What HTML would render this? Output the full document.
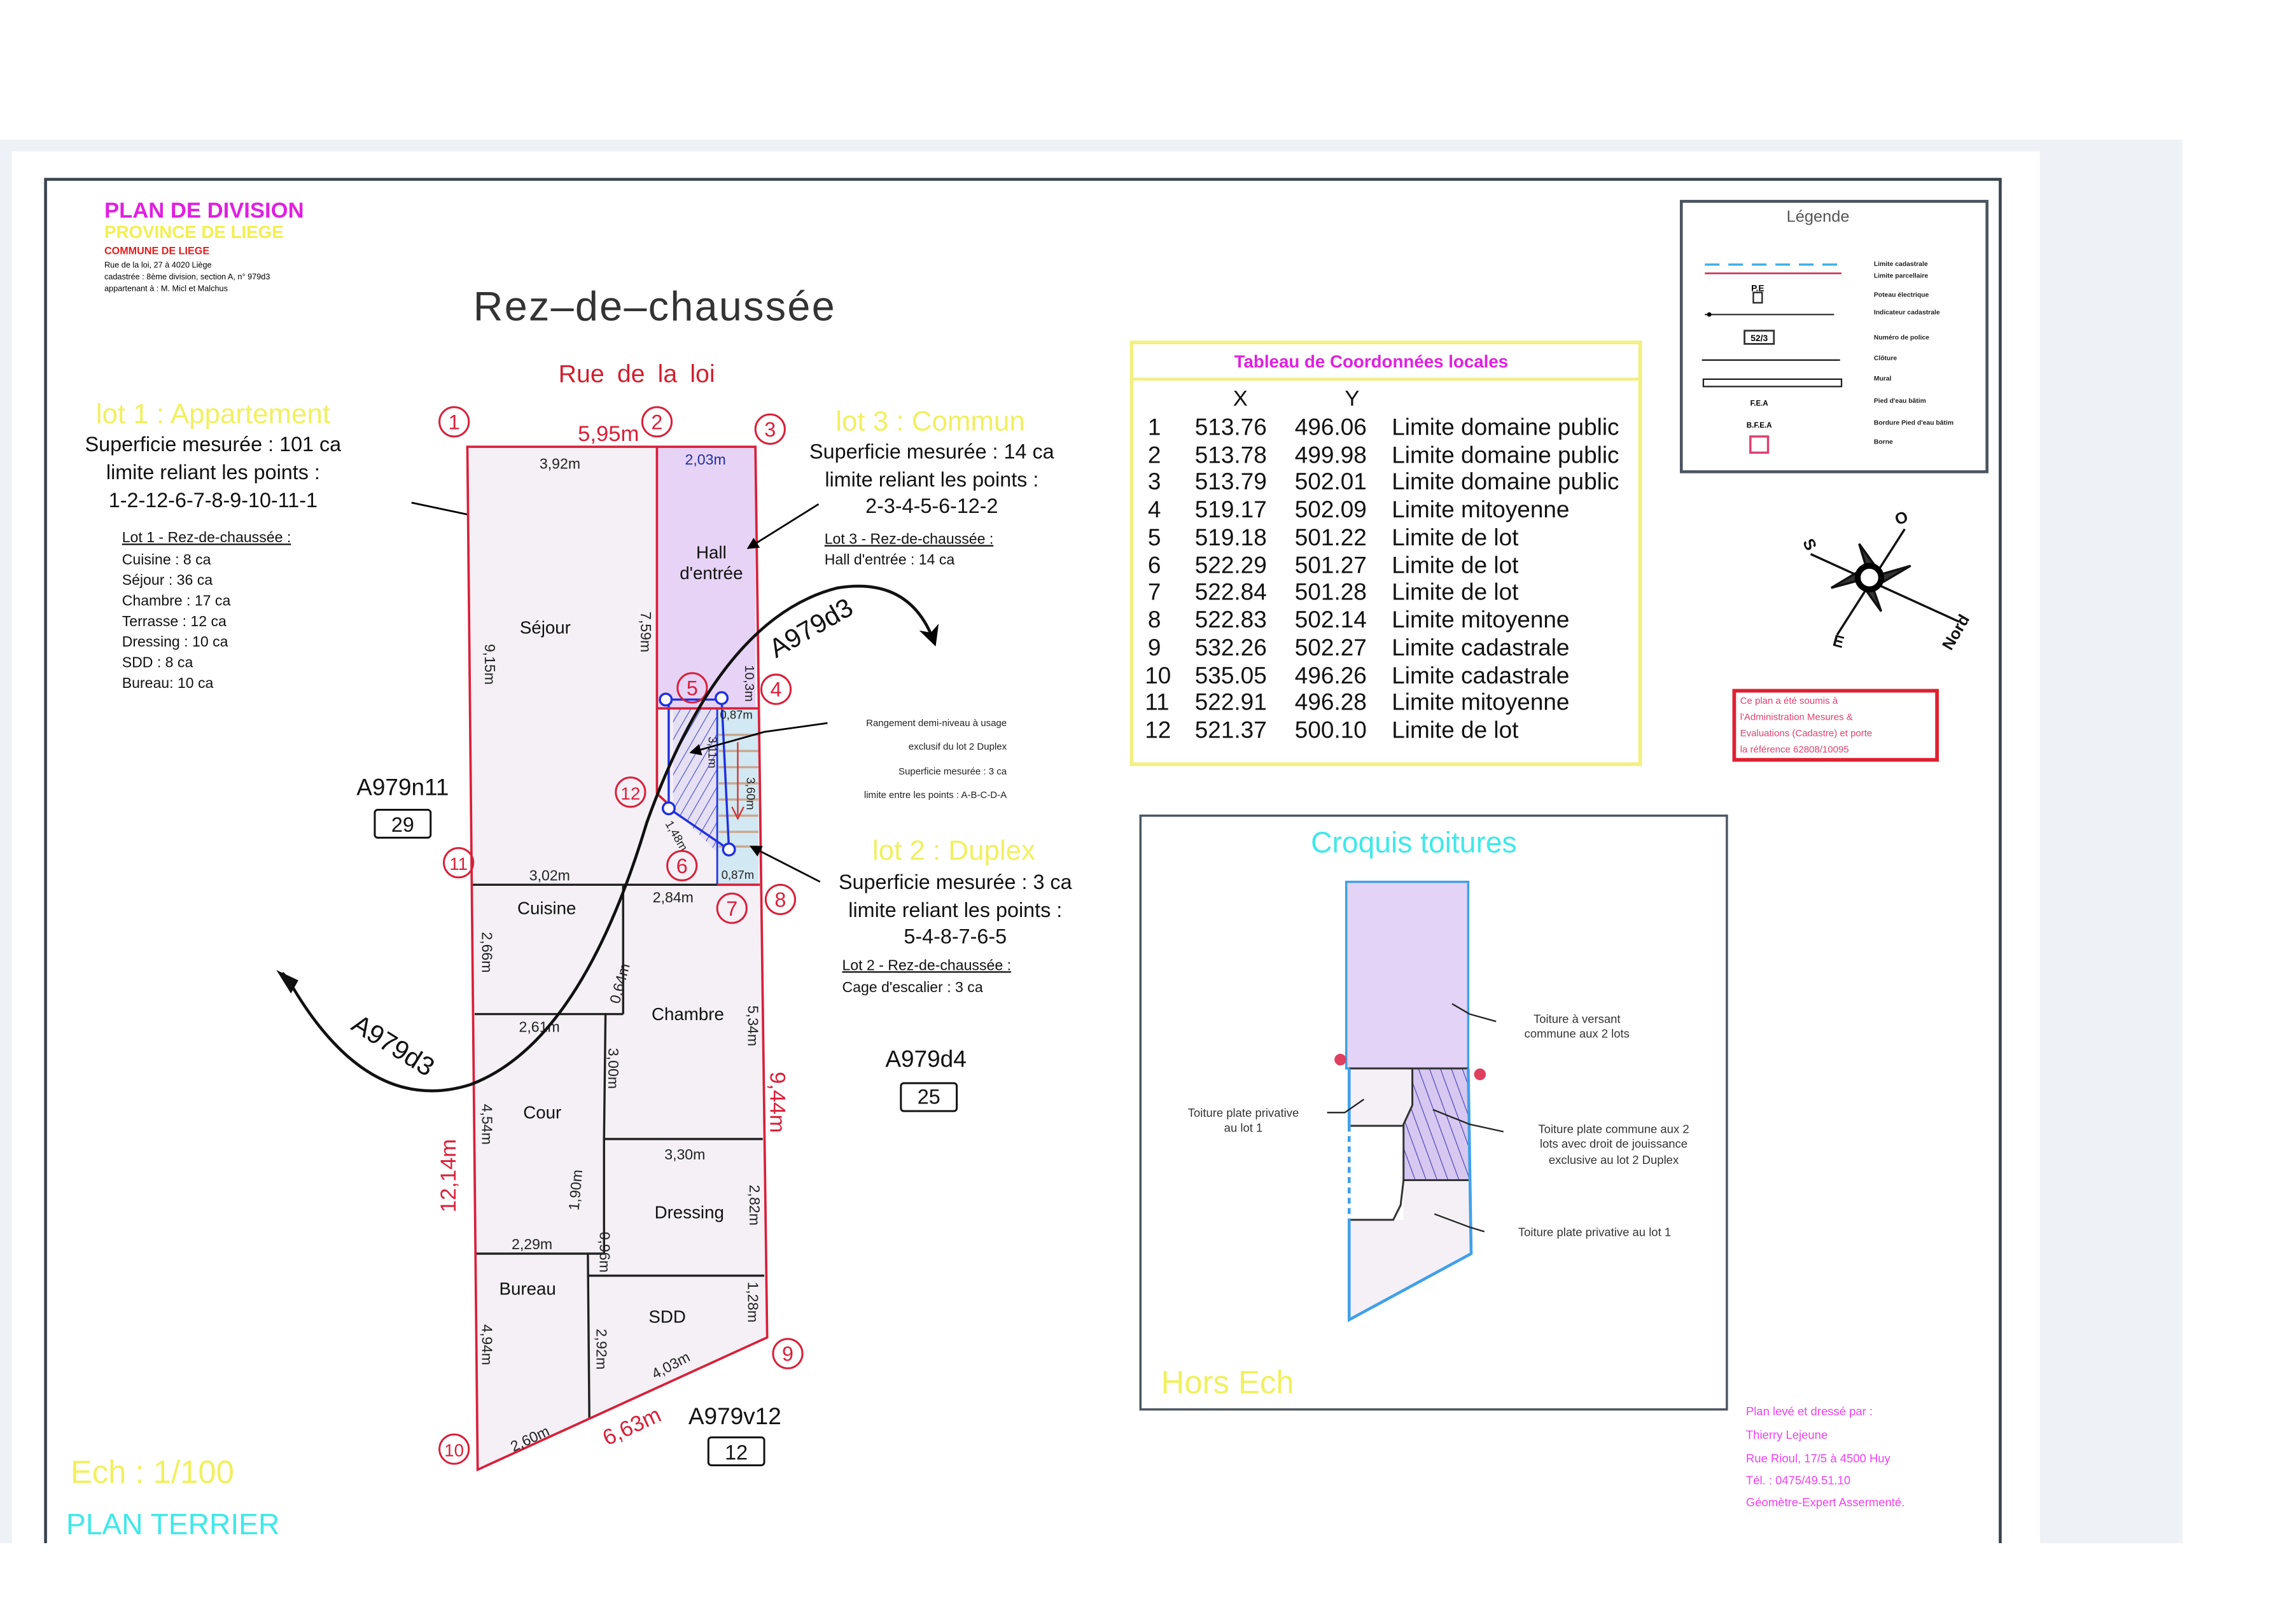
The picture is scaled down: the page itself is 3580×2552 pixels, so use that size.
<!DOCTYPE html>
<html><head><meta charset="utf-8"><style>
html,body{margin:0;padding:0;background:#fff;}
svg{display:block;}
text{font-family:"Liberation Sans",sans-serif;}
</style></head><body>
<svg width="3580" height="2552" viewBox="0 0 1550 1105" preserveAspectRatio="none" xmlns="http://www.w3.org/2000/svg">
<defs>
<pattern id="hb" patternUnits="userSpaceOnUse" width="6" height="6" patternTransform="rotate(30)"><rect width="6" height="6" fill="#e6e0f5"/><line x1="0" y1="0" x2="0" y2="6" stroke="#4a50c8" stroke-width="1"/></pattern>
<pattern id="hc" patternUnits="userSpaceOnUse" width="7" height="7" patternTransform="rotate(-20)"><rect width="7" height="7" fill="#d6c8f0"/><line x1="0" y1="0" x2="0" y2="7" stroke="#4a40b0" stroke-width="1"/></pattern>
<marker id="ar" markerWidth="8" markerHeight="8" refX="7" refY="4" orient="auto" markerUnits="userSpaceOnUse"><path d="M0,0 L8,4 L0,8 z" fill="#000"/></marker>
<marker id="arb" markerWidth="14" markerHeight="14" refX="12" refY="7" orient="auto" markerUnits="userSpaceOnUse"><path d="M0,0 L14,7 L0,14 L4,7 z" fill="#000"/></marker>
</defs>
<rect x="0" y="0" width="1550" height="1105" fill="#fff"/>
<rect x="0" y="95" width="1485" height="955" fill="#eef1f5"/>
<rect x="8" y="103" width="1380" height="947" fill="#fff"/>
<path d="M31,1050 L31,122 L1361,122 L1361,1050" fill="none" stroke="#3a4550" stroke-width="2"/>

<text x="71" y="148" font-size="15" font-weight="bold" fill="#e020e0">PLAN DE DIVISION</text>
<text x="71" y="162" font-size="12" font-weight="bold" fill="#f0f050">PROVINCE DE LIEGE</text>
<text x="71" y="173" font-size="7" font-weight="bold" fill="#e02020">COMMUNE DE LIEGE</text>
<text x="71" y="182" font-size="5.5" fill="#000">Rue de la loi, 27 à 4020 Liège</text>
<text x="71" y="190" font-size="5.5" fill="#000">cadastrée : 8ème division, section A, n° 979d3</text>
<text x="71" y="198" font-size="5.5" fill="#000">appartenant à : M. Micl et Malchus</text>

<text x="322" y="218" font-size="28" fill="#333" letter-spacing="1">Rez–de–chaussée</text>
<text x="380" y="260" font-size="17" fill="#d02030" word-spacing="4">Rue de la loi</text>

<text x="145" y="288" font-size="19" fill="#f0f060" text-anchor="middle">lot 1 : Appartement</text>
<g font-size="14" fill="#111" text-anchor="middle">
<text x="145" y="307">Superficie mesurée : 101 ca</text>
<text x="145" y="326">limite reliant les points :</text>
<text x="145" y="345">1-2-12-6-7-8-9-10-11-1</text>
</g>
<text x="83" y="369" font-size="10" fill="#111" text-decoration="underline">Lot 1 - Rez-de-chaussée :</text>
<g font-size="10" fill="#111">
<text x="83" y="384">Cuisine : 8 ca</text><text x="83" y="398">Séjour : 36 ca</text><text x="83" y="412">Chambre : 17 ca</text><text x="83" y="426">Terrasse : 12 ca</text><text x="83" y="440">Dressing : 10 ca</text><text x="83" y="454">SDD : 8 ca</text><text x="83" y="468">Bureau: 10 ca</text>
</g>
<line x1="280" y1="342" x2="332" y2="353" stroke="#000" stroke-width="1.2" marker-end="url(#ar)"/>

<polygon points="318,304 514,304 522,910 325,1000" fill="#f4f0f6"/>
<rect x="447" y="304" width="67" height="178" fill="#e6d3f5"/>
<rect x="488" y="482" width="28" height="120" fill="#d2e8f2"/>
<g stroke="#c8a890" stroke-width="1.5">
<line x1="489" y1="500" x2="516" y2="500"/><line x1="489" y1="511" x2="516" y2="511"/><line x1="489" y1="522" x2="516" y2="522"/><line x1="489" y1="533" x2="516" y2="533"/><line x1="489" y1="544" x2="516" y2="544"/><line x1="489" y1="555" x2="516" y2="555"/><line x1="489" y1="566" x2="516" y2="566"/><line x1="489" y1="576" x2="516" y2="576"/>
</g>
<line x1="502" y1="505" x2="502" y2="555" stroke="#d03030" stroke-width="1"/>
<path d="M498,549 L502,557 L506,549" fill="none" stroke="#d03030" stroke-width="1"/>
<polygon points="458,482 488,482 488,580 458,550" fill="url(#hb)"/>
<polygon points="455,476 491,476 496,578 455,550" fill="none" stroke="#2030e0" stroke-width="1.5"/>
<line x1="488" y1="482" x2="488" y2="602" stroke="#2030e0" stroke-width="1.2"/>

<g stroke="#222" stroke-width="1.5" fill="none">
<line x1="321" y1="602" x2="517" y2="602"/>
<line x1="424" y1="602" x2="424" y2="690"/>
<line x1="323" y1="690" x2="412" y2="690"/>
<polyline points="424,690 412,690 411,775 411,853"/>
<line x1="411" y1="775" x2="519" y2="775"/>
<line x1="324" y1="853" x2="411" y2="853"/>
<line x1="400" y1="868" x2="520" y2="868"/>
<line x1="400" y1="853" x2="401" y2="965"/>
</g>
<g stroke="#d8203a" stroke-width="1.6" fill="none">
<polygon points="318,304 514,304 522,910 325,1000"/>
<line x1="447" y1="304" x2="447" y2="540"/>
<line x1="447" y1="482" x2="516" y2="482"/>
<line x1="488" y1="602" x2="517" y2="602"/>
<line x1="447" y1="540" x2="458" y2="550"/>
</g>

<g font-size="10" fill="#222" text-anchor="middle">
<text x="381" y="319">3,92m</text><text x="480" y="316" fill="#2030a0">2,03m</text>
<text x="374" y="599">3,02m</text><text x="458" y="614">2,84m</text>
<text x="367" y="702">2,61m</text><text x="466" y="789">3,30m</text><text x="362" y="850">2,29m</text>
<text x="501" y="489" font-size="8">0,87m</text><text x="502" y="598" font-size="8">0,87m</text>
<text transform="translate(330,452) rotate(90)">9,15m</text>
<text transform="translate(436,430) rotate(90)">7,59m</text>
<text transform="translate(507,465) rotate(90)" font-size="9">10,3m</text>
<text transform="translate(328,648) rotate(90)">2,66m</text>
<text transform="translate(425,670) rotate(-75)">0,64m</text>
<text transform="translate(509,698) rotate(90)">5,34m</text>
<text transform="translate(414,727) rotate(90)">3,00m</text>
<text transform="translate(328,765) rotate(90)">4,54m</text>
<text transform="translate(395,810) rotate(-85)">1,90m</text>
<text transform="translate(510,820) rotate(90)">2,82m</text>
<text transform="translate(408,852) rotate(90)">0,96m</text>
<text transform="translate(509,886) rotate(90)">1,28m</text>
<text transform="translate(406,918) rotate(90)">2,92m</text>
<text transform="translate(328,915) rotate(90)">4,94m</text>
<text transform="translate(458,932) rotate(-28)">4,03m</text>
<text transform="translate(362,982) rotate(-25)">2,60m</text>
<text transform="translate(482,512) rotate(90)" font-size="8">3,11m</text>
<text transform="translate(508,540) rotate(90)" font-size="8">3,60m</text>
<text transform="translate(458,570) rotate(60)" font-size="8">1,48m</text>
</g>
<g font-size="12" fill="#111" text-anchor="middle">
<text x="371" y="431">Séjour</text><text x="484" y="380">Hall</text><text x="484" y="394">d'entrée</text>
<text x="372" y="622">Cuisine</text><text x="468" y="694">Chambre</text><text x="369" y="761">Cour</text>
<text x="469" y="829">Dressing</text><text x="359" y="881">Bureau</text><text x="454" y="900">SDD</text>
</g>
<g font-size="15" fill="#d8203a" text-anchor="middle">
<text x="414" y="300">5,95m</text>
<text transform="translate(310,800) rotate(-90)">12,14m</text>
<text transform="translate(524,750) rotate(90)">9,44m</text>
<text transform="translate(432,975) rotate(-25)">6,63m</text>
</g>

<g fill="none" stroke="#d8203a" stroke-width="1.3">
<circle cx="309" cy="287" r="10"/><circle cx="447" cy="287" r="10"/><circle cx="524" cy="292" r="10"/><circle cx="528" cy="469" r="10"/><circle cx="471" cy="468" r="10"/><circle cx="464" cy="589" r="10"/><circle cx="498" cy="618" r="10"/><circle cx="531" cy="612" r="10"/><circle cx="536" cy="921" r="10"/><circle cx="309" cy="986" r="10"/><circle cx="312" cy="587" r="10"/><circle cx="429" cy="539" r="10"/>
</g>
<g font-size="14" fill="#d8203a" text-anchor="middle">
<text x="309" y="292">1</text><text x="447" y="292">2</text><text x="524" y="297">3</text><text x="528" y="474">4</text><text x="471" y="473">5</text><text x="464" y="594">6</text><text x="498" y="623">7</text><text x="531" y="617">8</text><text x="536" y="926">9</text><text x="309" y="991" font-size="12">10</text><text x="312" y="592" font-size="12">11</text><text x="429" y="544" font-size="12">12</text>
</g>
<g fill="#fff" stroke="#2030e0" stroke-width="1.5">
<circle cx="453" cy="476" r="4"/><circle cx="491" cy="475" r="4"/><circle cx="496" cy="578" r="4"/><circle cx="455" cy="550" r="4"/>
</g>

<path d="M197,668 Q 250,760 320,738 Q 395,710 440,560 Q 490,420 570,400 Q 620,392 636,438" fill="none" stroke="#111" stroke-width="2" marker-end="url(#arb)"/>
<path d="M200,670 L192,662" stroke="#111" stroke-width="2"/>
<path d="M188,660 L203,667 L198,676 z" fill="#111"/>
<text transform="translate(528,448) rotate(-30)" font-size="18" fill="#111">A979d3</text>
<text transform="translate(238,700) rotate(32)" font-size="18" fill="#111">A979d3</text>

<g font-size="16" fill="#111" text-anchor="middle">
<text x="274" y="541">A979n11</text><text x="630" y="726">A979d4</text><text x="500" y="969">A979v12</text>
<text x="274" y="566" font-size="14">29</text><text x="632" y="751" font-size="14">25</text><text x="501" y="993" font-size="14">12</text>
</g>
<g fill="none" stroke="#111" stroke-width="1.3">
<rect x="255" y="551" width="38" height="19" rx="2"/><rect x="613" y="737" width="38" height="19" rx="2"/><rect x="482" y="978" width="38" height="19" rx="2"/>
</g>

<text x="633" y="293" font-size="19" fill="#f0f060" text-anchor="middle">lot 3 : Commun</text>
<g font-size="14" fill="#111" text-anchor="middle">
<text x="634" y="312">Superficie mesurée : 14 ca</text>
<text x="634" y="331">limite reliant les points :</text>
<text x="634" y="349">2-3-4-5-6-12-2</text>
</g>
<text x="561" y="370" font-size="10" fill="#111" text-decoration="underline">Lot 3 - Rez-de-chaussée :</text>
<text x="561" y="384" font-size="10" fill="#111">Hall d'entrée : 14 ca</text>
<line x1="557" y1="343" x2="509" y2="373" stroke="#000" stroke-width="1.2" marker-end="url(#ar)"/>

<g font-size="6.5" fill="#222" text-anchor="end">
<text x="685" y="494">Rangement demi-niveau à usage</text>
<text x="685" y="510">exclusif du lot 2 Duplex</text>
<text x="685" y="527">Superficie mesurée : 3 ca</text>
<text x="685" y="543">limite entre les points : A-B-C-D-A</text>
</g>
<path d="M563,492 L520,498 L470,512" fill="none" stroke="#000" stroke-width="1.2" marker-end="url(#ar)"/>

<text x="649" y="585" font-size="19" fill="#f0f060" text-anchor="middle">lot 2 : Duplex</text>
<g font-size="14" fill="#111" text-anchor="middle">
<text x="650" y="605">Superficie mesurée : 3 ca</text>
<text x="650" y="624">limite reliant les points :</text>
<text x="650" y="642">5-4-8-7-6-5</text>
</g>
<text x="573" y="660" font-size="10" fill="#111" text-decoration="underline">Lot 2 - Rez-de-chaussée :</text>
<text x="573" y="675" font-size="10" fill="#111">Cage d'escalier : 3 ca</text>
<line x1="558" y1="600" x2="511" y2="576" stroke="#000" stroke-width="1.2" marker-end="url(#ar)"/>

<rect x="770" y="233" width="346" height="287" fill="#fff" stroke="#f2f080" stroke-width="2.5"/>
<line x1="770" y1="258" x2="1116" y2="258" stroke="#f2f080" stroke-width="2"/>
<text x="933" y="250" font-size="12" font-weight="bold" fill="#e020e0" text-anchor="middle">Tableau de Coordonnées locales</text>
<text x="844" y="276" font-size="15" fill="#111" text-anchor="middle">X</text>
<text x="920" y="276" font-size="15" fill="#111" text-anchor="middle">Y</text>
<g font-size="16" fill="#111">
<text x="781" y="296">1</text><text x="813" y="296">513.76</text><text x="881" y="296">496.06</text><text x="947" y="296">Limite domaine public</text>
<text x="781" y="315">2</text><text x="813" y="315">513.78</text><text x="881" y="315">499.98</text><text x="947" y="315">Limite domaine public</text>
<text x="781" y="333">3</text><text x="813" y="333">513.79</text><text x="881" y="333">502.01</text><text x="947" y="333">Limite domaine public</text>
<text x="781" y="352">4</text><text x="813" y="352">519.17</text><text x="881" y="352">502.09</text><text x="947" y="352">Limite mitoyenne</text>
<text x="781" y="371">5</text><text x="813" y="371">519.18</text><text x="881" y="371">501.22</text><text x="947" y="371">Limite de lot</text>
<text x="781" y="390">6</text><text x="813" y="390">522.29</text><text x="881" y="390">501.27</text><text x="947" y="390">Limite de lot</text>
<text x="781" y="408">7</text><text x="813" y="408">522.84</text><text x="881" y="408">501.28</text><text x="947" y="408">Limite de lot</text>
<text x="781" y="427">8</text><text x="813" y="427">522.83</text><text x="881" y="427">502.14</text><text x="947" y="427">Limite mitoyenne</text>
<text x="781" y="446">9</text><text x="813" y="446">532.26</text><text x="881" y="446">502.27</text><text x="947" y="446">Limite cadastrale</text>
<text x="779" y="465">10</text><text x="813" y="465">535.05</text><text x="881" y="465">496.26</text><text x="947" y="465">Limite cadastrale</text>
<text x="779" y="483">11</text><text x="813" y="483">522.91</text><text x="881" y="483">496.28</text><text x="947" y="483">Limite mitoyenne</text>
<text x="779" y="502">12</text><text x="813" y="502">521.37</text><text x="881" y="502">500.10</text><text x="947" y="502">Limite de lot</text>
</g>

<rect x="1144" y="137" width="208" height="184" fill="#fff" stroke="#4a5560" stroke-width="2"/>
<text x="1237" y="151" font-size="11" fill="#555" text-anchor="middle">Légende</text>
<line x1="1160" y1="180" x2="1253" y2="180" stroke="#40b0e8" stroke-width="1.5" stroke-dasharray="10,6"/>
<line x1="1160" y1="186" x2="1253" y2="186" stroke="#d04060" stroke-width="1.2"/>
<text x="1196" y="198" font-size="6" font-weight="bold" text-anchor="middle">P.E</text>
<rect x="1193" y="199" width="6" height="7" fill="none" stroke="#222" stroke-width="1"/>
<line x1="1160" y1="214" x2="1248" y2="214" stroke="#333" stroke-width="1"/>
<circle cx="1163" cy="214" r="1.5" fill="#000"/>
<rect x="1187" y="225" width="20" height="9" fill="#fff" stroke="#333" stroke-width="1.2"/>
<text x="1197" y="232" font-size="6" font-weight="bold" text-anchor="middle">52/3</text>
<line x1="1158" y1="245" x2="1252" y2="245" stroke="#222" stroke-width="1"/>
<rect x="1159" y="258" width="94" height="5" fill="none" stroke="#222" stroke-width="1"/>
<text x="1197" y="276" font-size="5" font-weight="bold" text-anchor="middle">F.E.A</text>
<text x="1197" y="291" font-size="5" font-weight="bold" text-anchor="middle">B.F.E.A</text>
<rect x="1191" y="297" width="12" height="11" fill="none" stroke="#e04070" stroke-width="1.5"/>
<g font-size="4.5" font-weight="bold" fill="#222">
<text x="1275" y="181">Limite cadastrale</text><text x="1275" y="189">Limite parcellaire</text><text x="1275" y="202">Poteau électrique</text><text x="1275" y="214">Indicateur cadastrale</text><text x="1275" y="231">Numéro de police</text><text x="1275" y="245">Clôture</text><text x="1275" y="259">Mural</text><text x="1275" y="274">Pied d'eau bâtim</text><text x="1275" y="289">Bordure Pied d'eau bâtim</text><text x="1275" y="302">Borne</text>
</g>

<g stroke="#111" stroke-width="1.5" fill="#333">
<line x1="1232" y1="377" x2="1333" y2="423"/>
<line x1="1296" y1="360" x2="1250" y2="432"/>
<polygon points="1272,393 1265,370 1278,388"/>
<polygon points="1272,393 1300,385 1278,398"/>
<polygon points="1272,393 1280,416 1267,398"/>
<polygon points="1272,393 1246,400 1266,388"/>
</g>
<circle cx="1272" cy="393" r="8" fill="#fff" stroke="#000" stroke-width="4"/>
<g font-size="11" font-weight="bold" fill="#111" text-anchor="middle">
<text transform="translate(1228,372) rotate(65)">S</text>
<text transform="translate(1295,356) rotate(-20)">O</text>
<text transform="translate(1250,440) rotate(15)">E</text>
<text transform="translate(1334,432) rotate(-60)">Nord</text>
</g>

<rect x="1180" y="470" width="138" height="47" fill="#fff" stroke="#e02030" stroke-width="2.5"/>
<g font-size="6.5" fill="#e04070">
<text x="1184" y="479">Ce plan a été soumis à</text><text x="1184" y="490">l'Administration Mesures &amp;</text><text x="1184" y="501">Evaluations (Cadastre) et porte</text><text x="1184" y="512">la référence 62808/10095</text>
</g>

<rect x="776" y="555" width="399" height="404" fill="#fff" stroke="#4a5560" stroke-width="1.5"/>
<text x="962" y="580" font-size="20" fill="#40e8e8" text-anchor="middle">Croquis toitures</text>
<rect x="916" y="600" width="83" height="127" fill="#e3d3f7" stroke="#40a0e8" stroke-width="1.5"/>
<polygon points="918,727 999,727 1001,853 918,898" fill="#f4f0f6"/>
<rect x="918" y="767" width="37" height="63" fill="#fff"/>
<polygon points="961,727 999,727 1001,803 955,803 955,765 961,752" fill="url(#hc)"/>
<g stroke="#333" stroke-width="1.3" fill="none">
<line x1="918" y1="727" x2="999" y2="727"/>
<polyline points="961,727 961,752 955,765 955,803 1001,803"/>
<polyline points="918,766 955,766"/>
<polyline points="955,803 953,820 948,830 918,830"/>
</g>
<path d="M918,727 L918,898 L1001,853 L999,727" fill="none" stroke="#40a0e8" stroke-width="2"/>
<line x1="918" y1="770" x2="918" y2="830" stroke="#fff" stroke-width="2" stroke-dasharray="3,4"/>
<circle cx="912" cy="721" r="4" fill="#e04060"/><circle cx="1007" cy="731" r="4" fill="#e04060"/>
<g stroke="#222" stroke-width="1" fill="none">
<path d="M988,683 L1000,690 L1018,695"/><path d="M903,757 L915,757 L928,748"/><path d="M975,755 L1000,765 L1023,770"/><path d="M976,826 L1000,835 L1010,838"/>
</g>
<g font-size="8" fill="#333" text-anchor="middle">
<text x="1073" y="696">Toiture à versant</text><text x="1073" y="706">commune aux 2 lots</text>
<text x="846" y="760">Toiture plate privative</text><text x="846" y="770">au lot 1</text>
<text x="1098" y="771">Toiture plate commune aux 2</text><text x="1098" y="781">lots avec droit de jouissance</text><text x="1098" y="792">exclusive au lot 2 Duplex</text>
<text x="1085" y="841">Toiture plate privative au lot 1</text>
</g>
<text x="790" y="948" font-size="22" fill="#f0f060">Hors Ech</text>

<text x="48" y="1009" font-size="22" fill="#f0f060">Ech : 1/100</text>
<text x="45" y="1044" font-size="20" fill="#40e8e8">PLAN TERRIER</text>

<g font-size="8" fill="#f040f0">
<text x="1188" y="963">Plan levé et dressé par :</text><text x="1188" y="979">Thierry Lejeune</text><text x="1188" y="995">Rue Rioul, 17/5 à 4500 Huy</text><text x="1188" y="1010">Tél. : 0475/49.51.10</text><text x="1188" y="1025">Géomètre-Expert Assermenté.</text>
</g>
</svg>
</body></html>
